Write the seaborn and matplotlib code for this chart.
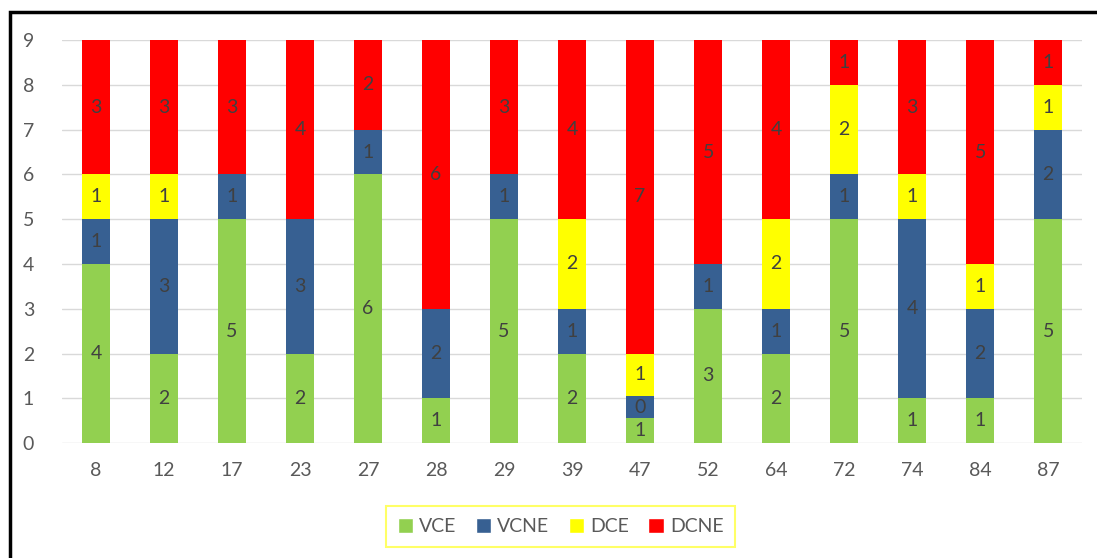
import pandas as pd
import matplotlib
matplotlib.use('Agg')
import matplotlib.pyplot as plt
from matplotlib.patches import Rectangle, Patch
import seaborn as sns

# data
ages = ['8', '12', '17', '23', '27', '28', '29', '39', '47', '52', '64', '72', '74', '84', '87']
vce = [4, 2, 5, 2, 6, 1, 5, 2, 0.55, 3, 2, 5, 1, 1, 5]
vcne = [1, 3, 1, 3, 1, 2, 1, 1, 0.5, 1, 1, 1, 4, 2, 2]
dce = [1, 1, 0, 0, 0, 0, 0, 2, 0.95, 0, 2, 2, 1, 1, 1]
dcne = [3, 3, 3, 4, 2, 6, 3, 4, 7, 5, 4, 1, 3, 5, 1]

series = ['VCE', 'VCNE', 'DCE', 'DCNE']
colors = {'VCE': '#92D050', 'VCNE': '#376092', 'DCE': '#FFFF00', 'DCNE': '#FF0000'}

df = pd.DataFrame({'Idade': ages, 'VCE': vce, 'VCNE': vcne, 'DCE': dce, 'DCNE': dcne})
cum = df[series].cumsum(axis=1)
cum['Idade'] = df['Idade']

sns.set_style('white')
plt.rcParams['font.family'] = ['Lato', 'DejaVu Sans']

fig = plt.figure(figsize=(10.97, 5.58), dpi=100)
ax = fig.add_axes([0.0565, 0.206, 0.93, 0.722])

# stacked bars: draw cumulative totals from the top down
for s in reversed(series):
    sns.barplot(data=cum, x='Idade', y=s, order=ages, color=colors[s],
                width=0.41, saturation=1, linewidth=0, ax=ax, zorder=2)

# segment labels
for i in range(len(ages)):
    base = 0
    for s in series:
        v = df[s][i]
        if v > 0:
            ax.text(i, base + v / 2, f'{v:.0f}', ha='center', va='center',
                    fontsize=14, color='#404040', zorder=5)
        base += v

ax.set_ylim(0, 9)
ax.set_xlim(-0.5, len(ages) - 0.5)
ax.set_yticks(range(0, 10))
ax.yaxis.grid(True, color='#D9D9D9', linewidth=1, zorder=0)
ax.set_axisbelow(True)
for sp in ax.spines.values():
    sp.set_visible(False)
ax.set_xlabel('')
ax.set_ylabel('')
ax.tick_params(axis='both', length=0, labelsize=14, colors='#595959')
ax.tick_params(axis='x', pad=14)
ax.tick_params(axis='y', pad=20)

handles = [Patch(facecolor=colors[s], label=s) for s in series]
leg = fig.legend(handles=handles, loc='center', bbox_to_anchor=(0.511, 0.056), ncol=4,
                 frameon=True, fancybox=False, fontsize=14, handlelength=0.8,
                 handleheight=0.8, handletextpad=0.3, columnspacing=1.0,
                 borderpad=0.6, labelcolor='#595959')
leg.get_frame().set_edgecolor('#FFFF40')
leg.get_frame().set_linewidth(1.5)

# outer frame of the figure box
fig.patches.append(Rectangle((10 / 1097, -0.1), 1.2, 1.1 - 12 / 558,
                             transform=fig.transFigure, fill=False,
                             edgecolor='black', linewidth=2.5))

fig.savefig('out.png', dpi=100)
